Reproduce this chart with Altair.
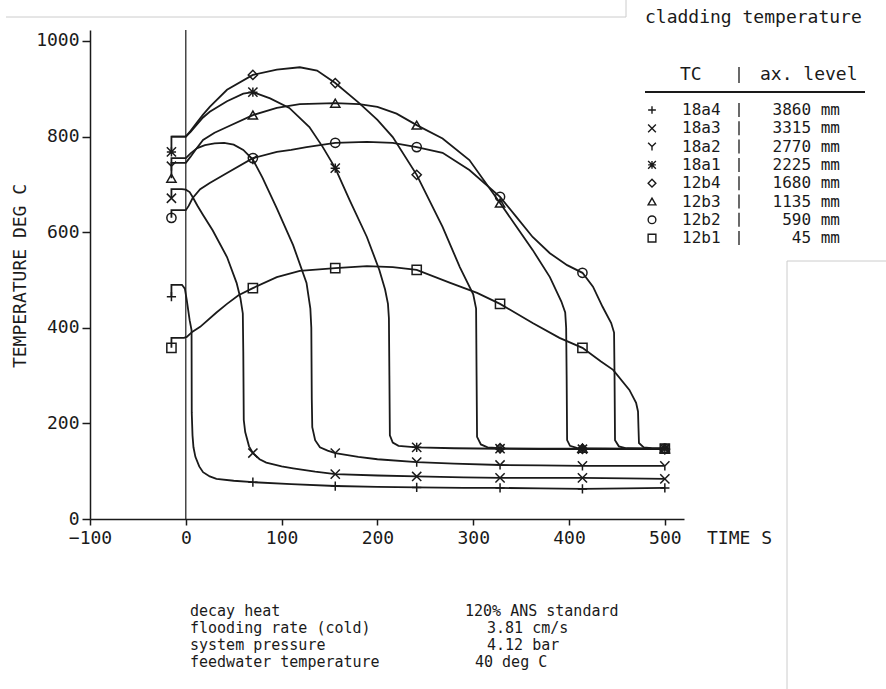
import altair as alt
import pandas as pd

FONT = "DejaVu Sans Mono"
INK = "#1a1a1a"

# thermocouples and their axial levels
SERIES = ["18a4", "18a3", "18a2", "18a1", "12b4", "12b3", "12b2", "12b1"]
LEVEL_MM = [3860, 3315, 2770, 2225, 1680, 1135, 590, 45]

# times (s) at which the plotter puts a symbol on each trace
PRE_T = -15
STATION_T = [70, 156, 241, 328, 414, 500]

# cladding temperature traces, time in s / temperature in deg C
t_18a4 = [-15, -15, -4, -1, 1, 4, 6, 6.2, 7, 8, 10, 14, 18, 25, 32, 50, 70, 110, 156, 200, 241, 290, 328, 370, 414, 460, 500]
T_18a4 = [465, 490, 490, 482, 458, 416, 395, 222, 175, 150, 130, 110, 98, 89, 84, 80, 77, 73, 69, 67, 66, 65, 65, 64, 63, 64, 65]

t_18a3 = [-15, -15, -4, 0, 4, 7, 12, 18, 28, 43, 53, 57, 59.5, 60, 60.5, 62, 66, 70, 77, 84, 100, 112, 135, 156, 200, 241, 290, 328, 370, 414, 460, 500]
T_18a3 = [671, 690, 690, 689, 684, 674, 656, 636, 604, 548, 494, 462, 430, 350, 207, 182, 152, 138, 125, 118, 110, 106, 99, 94, 91, 89, 87, 86, 86, 86, 85, 84]

t_18a2 = [-15, -15, 0, 5, 12, 20, 30, 40, 50, 60, 70, 80, 95, 112, 126, 130, 131, 131.5, 132, 135, 140, 148, 156, 180, 200, 241, 280, 328, 370, 414, 460, 500]
T_18a2 = [738, 755, 755, 765, 776, 782, 786, 787, 783, 772, 752, 714, 650, 573, 494, 440, 400, 250, 192, 165, 150, 143, 138, 130, 125, 119, 116, 113, 112, 111, 111, 111]

t_18a1 = [-15, -15, 0, 5, 11, 18, 25, 43, 60, 70, 88, 108, 129, 143, 156, 171, 189, 202, 208, 211, 212, 212.5, 213, 216, 222, 241, 280, 328, 370, 414, 460, 500]
T_18a1 = [768, 800, 800, 810, 824, 840, 852, 874, 890, 893, 880, 860, 820, 778, 734, 667, 590, 521, 480, 450, 420, 300, 175, 160, 153, 150, 148, 147, 146, 146, 146, 147]

t_12b4 = [-15, 0, 5, 11, 18, 25, 43, 70, 95, 119, 137, 156, 181, 200, 216, 241, 268, 286, 300, 303, 303.5, 304, 308, 315, 328, 370, 414, 460, 500]
T_12b4 = [800, 800, 812, 828, 846, 862, 898, 929, 940, 945, 938, 912, 870, 835, 799, 720, 611, 527, 470, 440, 300, 172, 156, 150, 148, 147, 147, 146, 146]

t_12b3 = [-15, -15, 0, 5, 10, 18, 30, 43, 70, 95, 119, 156, 181, 200, 220, 241, 268, 296, 328, 345, 362, 380, 392, 396, 397, 397.5, 398, 401, 408, 414, 460, 500]
T_12b3 = [713, 745, 745, 758, 772, 793, 808, 820, 845, 860, 868, 870, 868, 862, 848, 824, 796, 751, 661, 612, 563, 506, 455, 432, 400, 300, 165, 153, 149, 148, 147, 147]

t_12b2 = [-15, -15, 0, 3, 7, 15, 25, 43, 70, 95, 110, 126, 156, 189, 216, 241, 268, 296, 328, 345, 362, 380, 398, 414, 425, 435, 444, 447, 447.5, 448, 452, 460, 500]
T_12b2 = [630, 646, 646, 655, 671, 690, 703, 724, 755, 768, 772, 778, 787, 789, 787, 778, 766, 730, 674, 632, 590, 556, 531, 515, 486, 444, 410, 390, 300, 165, 152, 148, 147]

t_12b1 = [-15, -15, -2, 1, 7, 15, 32, 43, 55, 70, 95, 119, 156, 189, 216, 241, 276, 304, 328, 362, 390, 414, 433, 446, 463, 470, 472, 472.5, 473, 478, 486, 500]
T_12b1 = [358, 379, 379, 381, 392, 402, 432, 450, 468, 483, 506, 519, 525, 529, 527, 521, 494, 473, 450, 410, 379, 358, 330, 312, 270, 243, 225, 190, 159, 150, 148, 147]

TRACES = {
    "18a4": (t_18a4, T_18a4), "18a3": (t_18a3, T_18a3),
    "18a2": (t_18a2, T_18a2), "18a1": (t_18a1, T_18a1),
    "12b4": (t_12b4, T_12b4), "12b3": (t_12b3, T_12b3),
    "12b2": (t_12b2, T_12b2), "12b1": (t_12b1, T_12b1),
}
# 12b4 has no symbol before the flooding start
NO_PRE_SYMBOL = {"12b4"}

# plotter symbols (custom paths live in the [-1, 1] box)
SHAPES = [
    "M-1,0H1M0,-1V1",
    "M-1,-1L1,1M-1,1L1,-1",
    "M-1,-1L0,0L1,-1M0,0V1",
    "M-1,-1L1,1M-1,1L1,-1M-1,0H1M0,-1V1",
    "diamond",
    "triangle-up",
    "circle",
    "square",
]

NOTE_LABELS = ["decay heat", "flooding rate (cold)", "system pressure", "feedwater temperature"]
NOTE_VALUES = ["120% ANS standard", "3.81 cm/s", "4.12 bar", "40 deg C"]

# ---- tables for the library -------------------------------------------
curve_rows, mark_rows = [], []
for name, (ts, Ts) in TRACES.items():
    for k, (t, T) in enumerate(zip(ts, Ts)):
        curve_rows.append({"series": name, "k": k, "t": t, "T": T})
    stations = ([] if name in NO_PRE_SYMBOL else [PRE_T]) + STATION_T
    for s in stations:
        # first sample of the trace at that time
        idx = ts.index(s)
        mark_rows.append({"series": name, "t": ts[idx], "T": Ts[idx]})
curves = pd.DataFrame(curve_rows)
marks = pd.DataFrame(mark_rows)

W, H = 594, 489
x_scale = alt.Scale(domain=[-100, 520], nice=False, zero=False)
y_scale = alt.Scale(domain=[0, 1023], nice=False, zero=False)
shape_scale = alt.Scale(domain=SERIES, range=SHAPES)

lines = alt.Chart(curves).mark_line(color=INK, strokeWidth=1.8, interpolate="linear").encode(
    x=alt.X("t:Q", scale=x_scale,
            axis=alt.Axis(values=[-100, 0, 100, 200, 300, 400, 500], title=None, format="d",
                          tickSize=6, labelPadding=4, labelFlush=False)),
    y=alt.Y("T:Q", scale=y_scale,
            axis=alt.Axis(values=[0, 200, 400, 600, 800, 1000], title=None, format="d",
                          tickSize=8, labelPadding=3)),
    detail="series:N",
    order="k:Q",
)

symbols = alt.Chart(marks).mark_point(filled=False, color=INK, strokeWidth=1.5, size=85, opacity=1).encode(
    x=alt.X("t:Q", scale=x_scale),
    y=alt.Y("T:Q", scale=y_scale),
    shape=alt.Shape("series:N", scale=shape_scale, legend=None),
)

zero_line = alt.Chart(pd.DataFrame({"t": [0], "lo": [0], "hi": [1023]})).mark_rule(
    color=INK, strokeWidth=1.2).encode(
    x=alt.X("t:Q", scale=x_scale), y=alt.Y("lo:Q", scale=y_scale), y2="hi:Q")

# ---- text blocks (pixel positions relative to the plot origin) ----------
free = dict(scale=None, axis=None)


def text_layer(rows, size, align="left"):
    return alt.Chart(pd.DataFrame(rows)).mark_text(
        align=align, baseline="middle", font=FONT, fontSize=size, color=INK).encode(
        x=alt.X("px:Q", **free), y=alt.Y("py:Q", **free), text="text:N")


big_rows = [
    {"text": "TIME S", "px": 617, "py": 509},
    {"text": "cladding temperature", "px": 555, "py": -12},
    {"text": "TC", "px": 590, "py": 45},
    {"text": "ax. level", "px": 670, "py": 45},
]

row_y0, row_dy = 80, 18.3
key_rows, level_rows = [], []
bar_rows = [{"px": 649, "y0": 37, "y1": 53}]   # column separator of the key table
for i, (name, lv) in enumerate(zip(SERIES, LEVEL_MM)):
    y = row_y0 + i * row_dy
    key_rows.append({"text": name, "px": 592, "py": y})
    level_rows.append({"text": f"{lv} mm", "px": 750, "py": y})
    bar_rows.append({"px": 649, "y0": y - 7, "y1": y + 7})

note_rows = []
note_y = [581, 598, 615, 632]
note_x = [375, 397, 397, 385]
for lab, val, y, xv in zip(NOTE_LABELS, NOTE_VALUES, note_y, note_x):
    note_rows.append({"text": lab, "px": 100, "py": y})
    note_rows.append({"text": val, "px": xv, "py": y})

big_texts = text_layer(big_rows, 18)
key_texts = text_layer(key_rows, 16)
level_texts = text_layer(level_rows, 16, align="right")
note_texts = text_layer(note_rows, 15)

key_bars = alt.Chart(pd.DataFrame(bar_rows)).mark_rule(color=INK, strokeWidth=1.3).encode(
    x=alt.X("px:Q", **free), y=alt.Y("y0:Q", **free), y2="y1:Q")

key_sym_rows = [{"series": name, "px": 562, "py": row_y0 + i * row_dy} for i, name in enumerate(SERIES)]
key_symbols = alt.Chart(pd.DataFrame(key_sym_rows)).mark_point(
    filled=False, color=INK, strokeWidth=1.4, size=60, opacity=1).encode(
    x=alt.X("px:Q", **free), y=alt.Y("py:Q", **free),
    shape=alt.Shape("series:N", scale=shape_scale, legend=None))

y_title = alt.Chart(pd.DataFrame({"text": ["TEMPERATURE DEG C"]})).mark_text(
    angle=270, align="center", baseline="middle", font=FONT, fontSize=18, color=INK).encode(
    x=alt.value(-69), y=alt.value(246), text="text:N")

underline = alt.Chart(pd.DataFrame({"a": [0]})).mark_rule(color=INK, strokeWidth=2).encode(
    x=alt.value(555), x2=alt.value(775), y=alt.value(62))

# faint frame edges around the sheet
frame = pd.DataFrame({"a": [0]})
edges = [
    alt.Chart(frame).mark_rule(color="#cccccc", strokeWidth=1).encode(
        x=alt.value(-84), x2=alt.value(536), y=alt.value(-13)),
    alt.Chart(frame).mark_rule(color="#cccccc", strokeWidth=1).encode(
        x=alt.value(536), y=alt.value(-30), y2=alt.value(-13)),
    alt.Chart(frame).mark_rule(color="#cccccc", strokeWidth=1).encode(
        x=alt.value(697), y=alt.value(231), y2=alt.value(659)),
    alt.Chart(frame).mark_rule(color="#cccccc", strokeWidth=1).encode(
        x=alt.value(697), x2=alt.value(796), y=alt.value(231)),
]

chart = alt.layer(
    *edges, zero_line, lines, symbols, big_texts, key_texts, level_texts, note_texts,
    key_bars, key_symbols, y_title, underline,
).properties(
    width=W, height=H,
    autosize=alt.AutoSizeParams(type="none"),
    padding={"left": 90, "top": 30, "right": 202, "bottom": 170},
    background="white",
).configure_axis(
    grid=False, domainColor=INK, domainWidth=1.5, tickColor=INK, tickWidth=1.5,
    labelColor=INK, labelFont=FONT, labelFontSize=18,
).configure_view(stroke=None)

chart.save("out.html", embed_options={"renderer": "svg", "actions": False})
